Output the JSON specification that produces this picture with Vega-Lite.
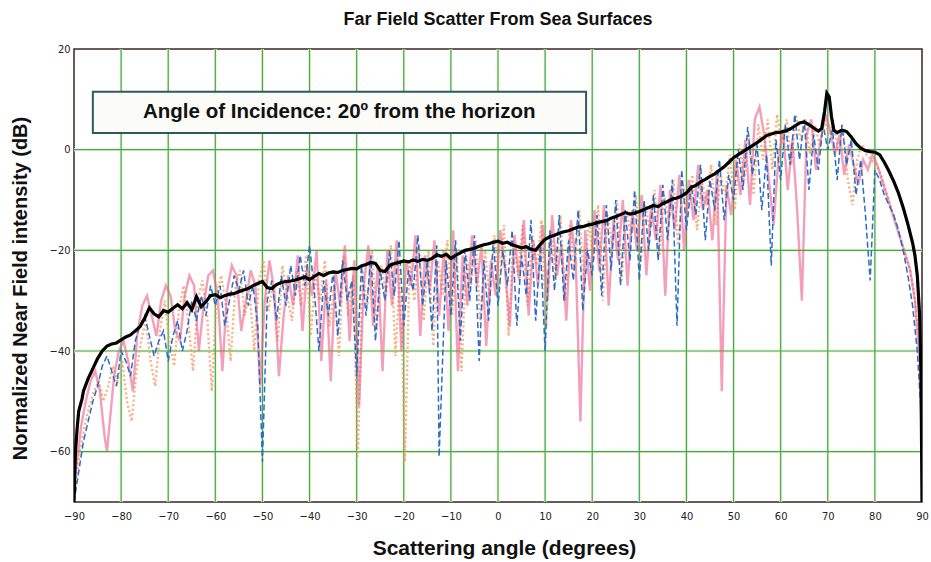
{
  "$schema": "https://vega.github.io/schema/vega-lite/v6.json",
  "width": 848,
  "height": 453,
  "autosize": {"type": "none"},
  "padding": {"left": 74, "top": 49, "right": 9, "bottom": 60},
  "background": "white",
  "title": {
    "text": "Far Field Scatter From Sea Surfaces",
    "font": "Liberation Sans",
    "fontSize": 18,
    "fontWeight": "bold",
    "color": "#111111",
    "anchor": "middle",
    "offset": 14
  },
  "config": {
    "view": {"stroke": "#3a2624", "strokeWidth": 1.5},
    "axis": {
      "grid": false,
      "ticks": false,
      "domain": false,
      "labelFlush": false,
      "labelOverlap": false,
      "labelFont": "Liberation Sans Narrow, DejaVu Sans Condensed, sans-serif",
      "labelFontSize": 11,
      "labelColor": "#222222",
      "titleFont": "Liberation Sans",
      "titleFontWeight": "bold",
      "titleColor": "#111111"
    }
  },
  "datasets": {
    "vgrid": [{"g": -80}, {"g": -70}, {"g": -60}, {"g": -50}, {"g": -40}, {"g": -30}, {"g": -20}, {"g": -10}, {"g": 0}, {"g": 10}, {"g": 20}, {"g": 30}, {"g": 40}, {"g": 50}, {"g": 60}, {"g": 70}, {"g": 80}],
    "hgrid": [{"g": 0}, {"g": -20}, {"g": -40}, {"g": -60}],
    "mean": [
      {"a": -90, "v": -70}, {"a": -89.7, "v": -60}, {"a": -89.3, "v": -55}, {"a": -89, "v": -52}, {"a": -88.3, "v": -49.5}, {"a": -88, "v": -48}, {"a": -87, "v": -45.5}, {"a": -86, "v": -43.5}, {"a": -85, "v": -41.5}, {"a": -84, "v": -40}, {"a": -83, "v": -39}, {"a": -82, "v": -38.6}, {"a": -81, "v": -38.4}, {"a": -80, "v": -37.8}, {"a": -79, "v": -37.2}, {"a": -78, "v": -36.8}, {"a": -77, "v": -36}, {"a": -76, "v": -35.2}, {"a": -75, "v": -33.5}, {"a": -74, "v": -31.4}, {"a": -73, "v": -32.6}, {"a": -72, "v": -33.2}, {"a": -71, "v": -32}, {"a": -70, "v": -32.3}, {"a": -69, "v": -31.5}, {"a": -68, "v": -30.8}, {"a": -67, "v": -31.6}, {"a": -66, "v": -30.4}, {"a": -65, "v": -31.8}, {"a": -64, "v": -29.2}, {"a": -63, "v": -31.2}, {"a": -62, "v": -30.2}, {"a": -61, "v": -29}, {"a": -60, "v": -28.8}, {"a": -59, "v": -29.4}, {"a": -58, "v": -29}, {"a": -57, "v": -28.7}, {"a": -56, "v": -28.6}, {"a": -55, "v": -28.2}, {"a": -54, "v": -27.9}, {"a": -53, "v": -27.6}, {"a": -52, "v": -27}, {"a": -51, "v": -26.6}, {"a": -50, "v": -26.2}, {"a": -49, "v": -27.4}, {"a": -48, "v": -27.6}, {"a": -47, "v": -26.8}, {"a": -46, "v": -26.4}, {"a": -45, "v": -26.2}, {"a": -44, "v": -26.1}, {"a": -43, "v": -25.9}, {"a": -42, "v": -25.6}, {"a": -41, "v": -25.3}, {"a": -40, "v": -25.8}, {"a": -39, "v": -25.2}, {"a": -38, "v": -24.6}, {"a": -37, "v": -25}, {"a": -36, "v": -24.5}, {"a": -35, "v": -24.3}, {"a": -34, "v": -24.4}, {"a": -33, "v": -24}, {"a": -32, "v": -23.8}, {"a": -31, "v": -23.6}, {"a": -30, "v": -23.7}, {"a": -29, "v": -23.1}, {"a": -28, "v": -22.8}, {"a": -27, "v": -22.4}, {"a": -26, "v": -22.6}, {"a": -25, "v": -24}, {"a": -24, "v": -24.2}, {"a": -23, "v": -23}, {"a": -22, "v": -22.6}, {"a": -21, "v": -22.4}, {"a": -20, "v": -22.1}, {"a": -19, "v": -22.3}, {"a": -18, "v": -21.9}, {"a": -17, "v": -22.2}, {"a": -16, "v": -21.8}, {"a": -15, "v": -22}, {"a": -14, "v": -21.6}, {"a": -13, "v": -20.9}, {"a": -12, "v": -21.2}, {"a": -11, "v": -20.8}, {"a": -10, "v": -21.6}, {"a": -9, "v": -21}, {"a": -8, "v": -20.5}, {"a": -7, "v": -20}, {"a": -6, "v": -19.8}, {"a": -5, "v": -19.6}, {"a": -4, "v": -19.2}, {"a": -3, "v": -18.9}, {"a": -2, "v": -18.7}, {"a": -1, "v": -18.4}, {"a": 0, "v": -18.2}, {"a": 1, "v": -18.6}, {"a": 2, "v": -18.4}, {"a": 3, "v": -18.9}, {"a": 4, "v": -19.2}, {"a": 5, "v": -19.5}, {"a": 6, "v": -19.3}, {"a": 7, "v": -19.8}, {"a": 8, "v": -20}, {"a": 9, "v": -18.8}, {"a": 10, "v": -17.8}, {"a": 11, "v": -17.3}, {"a": 12, "v": -17}, {"a": 13, "v": -16.6}, {"a": 14, "v": -16.3}, {"a": 15, "v": -16.1}, {"a": 16, "v": -15.7}, {"a": 17, "v": -15.4}, {"a": 18, "v": -15.3}, {"a": 19, "v": -15}, {"a": 20, "v": -14.8}, {"a": 21, "v": -14.5}, {"a": 22, "v": -14.3}, {"a": 23, "v": -14.1}, {"a": 24, "v": -13.6}, {"a": 25, "v": -13.3}, {"a": 26, "v": -12.9}, {"a": 27, "v": -12.5}, {"a": 28, "v": -12.8}, {"a": 29, "v": -12.6}, {"a": 30, "v": -12.3}, {"a": 31, "v": -11.9}, {"a": 32, "v": -11.5}, {"a": 33, "v": -11.1}, {"a": 34, "v": -11.3}, {"a": 35, "v": -10.7}, {"a": 36, "v": -10.3}, {"a": 37, "v": -9.8}, {"a": 38, "v": -9.6}, {"a": 39, "v": -9.2}, {"a": 40, "v": -8.6}, {"a": 41, "v": -7.5}, {"a": 42, "v": -7.1}, {"a": 43, "v": -6.4}, {"a": 44, "v": -5.9}, {"a": 45, "v": -5.3}, {"a": 46, "v": -4.8}, {"a": 47, "v": -4.1}, {"a": 48, "v": -3.4}, {"a": 49, "v": -2.5}, {"a": 50, "v": -1.6}, {"a": 51, "v": -1}, {"a": 52, "v": -0.4}, {"a": 53, "v": 0.2}, {"a": 54, "v": 0.8}, {"a": 55, "v": 1.4}, {"a": 56, "v": 2.1}, {"a": 57, "v": 2.8}, {"a": 58, "v": 3.1}, {"a": 59, "v": 3.4}, {"a": 60, "v": 3.5}, {"a": 61, "v": 3.7}, {"a": 62, "v": 4.1}, {"a": 63, "v": 4.7}, {"a": 64, "v": 5.3}, {"a": 65, "v": 5.5}, {"a": 66, "v": 5}, {"a": 67, "v": 4.3}, {"a": 68, "v": 3.7}, {"a": 68.7, "v": 4.2}, {"a": 69.3, "v": 7.5}, {"a": 69.8, "v": 11.2}, {"a": 70.3, "v": 10.5}, {"a": 70.8, "v": 6.5}, {"a": 71.3, "v": 3.8}, {"a": 72, "v": 3.4}, {"a": 73, "v": 3.9}, {"a": 74, "v": 3.6}, {"a": 75, "v": 2.5}, {"a": 76, "v": 1.2}, {"a": 77, "v": 0.3}, {"a": 78, "v": -0.2}, {"a": 79, "v": -0.4}, {"a": 80, "v": -0.5}, {"a": 81, "v": -1}, {"a": 82, "v": -2.5}, {"a": 83, "v": -4.3}, {"a": 84, "v": -6.3}, {"a": 85, "v": -8.6}, {"a": 86, "v": -11.5}, {"a": 87, "v": -14.8}, {"a": 88, "v": -18.5}, {"a": 88.5, "v": -21}, {"a": 89, "v": -25}, {"a": 89.5, "v": -33}, {"a": 89.8, "v": -45}, {"a": 90, "v": -70}
    ],
    "blue": [
      {"a": -90, "v": -70}, {"a": -89, "v": -64}, {"a": -88, "v": -58}, {"a": -87, "v": -54}, {"a": -86, "v": -50}, {"a": -85, "v": -47}, {"a": -84, "v": -43}, {"a": -83, "v": -41}, {"a": -82, "v": -44}, {"a": -81, "v": -47}, {"a": -80, "v": -40}, {"a": -79, "v": -42}, {"a": -78, "v": -45}, {"a": -77, "v": -38}, {"a": -76, "v": -35}, {"a": -75, "v": -33}, {"a": -74, "v": -37}, {"a": -73, "v": -41}, {"a": -72, "v": -38}, {"a": -71, "v": -36}, {"a": -70, "v": -42}, {"a": -69, "v": -37}, {"a": -68, "v": -34}, {"a": -67, "v": -40}, {"a": -66, "v": -36}, {"a": -65, "v": -30}, {"a": -64, "v": -34}, {"a": -63, "v": -29}, {"a": -62, "v": -33}, {"a": -61, "v": -27}, {"a": -60, "v": -31}, {"a": -59, "v": -27}, {"a": -58, "v": -35}, {"a": -57, "v": -30}, {"a": -56, "v": -25}, {"a": -55, "v": -28}, {"a": -54, "v": -24}, {"a": -53, "v": -31}, {"a": -52, "v": -27}, {"a": -51, "v": -35}, {"a": -50, "v": -62}, {"a": -49, "v": -30}, {"a": -48, "v": -26}, {"a": -47, "v": -34}, {"a": -46, "v": -25}, {"a": -45, "v": -31}, {"a": -44, "v": -23}, {"a": -43, "v": -29}, {"a": -42, "v": -21}, {"a": -41, "v": -27}, {"a": -40, "v": -19}, {"a": -39, "v": -28}, {"a": -38, "v": -40}, {"a": -37, "v": -26}, {"a": -36, "v": -33}, {"a": -35, "v": -24}, {"a": -34, "v": -37}, {"a": -33, "v": -22}, {"a": -32, "v": -30}, {"a": -31, "v": -26}, {"a": -30, "v": -45}, {"a": -29, "v": -23}, {"a": -28, "v": -33}, {"a": -27, "v": -21}, {"a": -26, "v": -38}, {"a": -25, "v": -24}, {"a": -24, "v": -30}, {"a": -23, "v": -20}, {"a": -22, "v": -29}, {"a": -21, "v": -18}, {"a": -20, "v": -35}, {"a": -19, "v": -24}, {"a": -18, "v": -28}, {"a": -17, "v": -17}, {"a": -16, "v": -31}, {"a": -15, "v": -22}, {"a": -14, "v": -36}, {"a": -13, "v": -19}, {"a": -12.5, "v": -61}, {"a": -11, "v": -22}, {"a": -10, "v": -33}, {"a": -9, "v": -18}, {"a": -8, "v": -38}, {"a": -7, "v": -20}, {"a": -6, "v": -30}, {"a": -5, "v": -17}, {"a": -4, "v": -42}, {"a": -3, "v": -22}, {"a": -2, "v": -34}, {"a": -1, "v": -18}, {"a": 0, "v": -31}, {"a": 1, "v": -20}, {"a": 2, "v": -27}, {"a": 3, "v": -16}, {"a": 4, "v": -35}, {"a": 5, "v": -21}, {"a": 6, "v": -29}, {"a": 7, "v": -14}, {"a": 8, "v": -34}, {"a": 9, "v": -19}, {"a": 10, "v": -40}, {"a": 11, "v": -16}, {"a": 12, "v": -28}, {"a": 13, "v": -13}, {"a": 14, "v": -30}, {"a": 15, "v": -18}, {"a": 16, "v": -26}, {"a": 17, "v": -12}, {"a": 18, "v": -32}, {"a": 19, "v": -20}, {"a": 20, "v": -25}, {"a": 21, "v": -13}, {"a": 22, "v": -29}, {"a": 23, "v": -11}, {"a": 24, "v": -24}, {"a": 25, "v": -10}, {"a": 26, "v": -27}, {"a": 27, "v": -12}, {"a": 28, "v": -22}, {"a": 29, "v": -8}, {"a": 30, "v": -26}, {"a": 31, "v": -10}, {"a": 32, "v": -20}, {"a": 33, "v": -9}, {"a": 34, "v": -22}, {"a": 35, "v": -7}, {"a": 36, "v": -18}, {"a": 37, "v": -6}, {"a": 38, "v": -35}, {"a": 39, "v": -4}, {"a": 40, "v": -16}, {"a": 41, "v": -7}, {"a": 42, "v": -13}, {"a": 43, "v": -3}, {"a": 44, "v": -18}, {"a": 45, "v": -6}, {"a": 46, "v": -12}, {"a": 47, "v": -2}, {"a": 48, "v": -14}, {"a": 49, "v": -5}, {"a": 50, "v": -10}, {"a": 51, "v": 0}, {"a": 52, "v": -8}, {"a": 53, "v": 4.5}, {"a": 54, "v": -5}, {"a": 55, "v": 1}, {"a": 56, "v": -12}, {"a": 57, "v": -1}, {"a": 58, "v": -23}, {"a": 59, "v": 2}, {"a": 60, "v": -6}, {"a": 61, "v": 5}, {"a": 62, "v": -3}, {"a": 63, "v": 7}, {"a": 64, "v": -2}, {"a": 65, "v": 6}, {"a": 66, "v": -8}, {"a": 67, "v": 3}, {"a": 68, "v": -4}, {"a": 69, "v": 5}, {"a": 70, "v": 0}, {"a": 71, "v": 4}, {"a": 72, "v": -6}, {"a": 73, "v": 5}, {"a": 74, "v": -3}, {"a": 75, "v": 2}, {"a": 76, "v": -9}, {"a": 77, "v": -2}, {"a": 78, "v": -13}, {"a": 79, "v": -26}, {"a": 80, "v": -4}, {"a": 81, "v": -6}, {"a": 82, "v": -9}, {"a": 83, "v": -11}, {"a": 84, "v": -13}, {"a": 85, "v": -16}, {"a": 86, "v": -20}, {"a": 87, "v": -25}, {"a": 88, "v": -31}, {"a": 89, "v": -40}, {"a": 90, "v": -55}
    ],
    "pink": [
      {"a": -90, "v": -66}, {"a": -89.5, "v": -63}, {"a": -88.5, "v": -55}, {"a": -87.5, "v": -50}, {"a": -86.5, "v": -46}, {"a": -85.5, "v": -44}, {"a": -84.5, "v": -48}, {"a": -83.5, "v": -57}, {"a": -83, "v": -60}, {"a": -82.5, "v": -55}, {"a": -81.5, "v": -45}, {"a": -80.5, "v": -40}, {"a": -79.5, "v": -38}, {"a": -78.5, "v": -42}, {"a": -77.5, "v": -48}, {"a": -76.5, "v": -36}, {"a": -75.5, "v": -31}, {"a": -74.5, "v": -29}, {"a": -73.5, "v": -33}, {"a": -72.5, "v": -37}, {"a": -71.5, "v": -30}, {"a": -70.5, "v": -27}, {"a": -69.5, "v": -29}, {"a": -68.5, "v": -36}, {"a": -67.5, "v": -38}, {"a": -66.5, "v": -29}, {"a": -65.5, "v": -25}, {"a": -64.5, "v": -27}, {"a": -63.5, "v": -40}, {"a": -62.5, "v": -31}, {"a": -61.5, "v": -25}, {"a": -60.5, "v": -24}, {"a": -59.5, "v": -29}, {"a": -58.5, "v": -44}, {"a": -57.5, "v": -28}, {"a": -56.5, "v": -23}, {"a": -55.5, "v": -25}, {"a": -54.5, "v": -36}, {"a": -53.5, "v": -30}, {"a": -52.5, "v": -24}, {"a": -51.5, "v": -27}, {"a": -50.5, "v": -47}, {"a": -49.5, "v": -30}, {"a": -48.5, "v": -22}, {"a": -47.5, "v": -28}, {"a": -46.5, "v": -45}, {"a": -45.5, "v": -33}, {"a": -44.5, "v": -25}, {"a": -43.5, "v": -31}, {"a": -42.5, "v": -21}, {"a": -41.5, "v": -36}, {"a": -40.5, "v": -23}, {"a": -39.5, "v": -29}, {"a": -38.5, "v": -20}, {"a": -37.5, "v": -42}, {"a": -36.5, "v": -26}, {"a": -35.5, "v": -46}, {"a": -34.5, "v": -24}, {"a": -33.5, "v": -31}, {"a": -32.5, "v": -19}, {"a": -31.5, "v": -38}, {"a": -30.5, "v": -22}, {"a": -29.5, "v": -51}, {"a": -28.5, "v": -27}, {"a": -27.5, "v": -19}, {"a": -26.5, "v": -35}, {"a": -25.5, "v": -23}, {"a": -24.5, "v": -44}, {"a": -23.5, "v": -20}, {"a": -22.5, "v": -31}, {"a": -21.5, "v": -18}, {"a": -20.5, "v": -40}, {"a": -19.5, "v": -22}, {"a": -18.5, "v": -27}, {"a": -17.5, "v": -17}, {"a": -16.5, "v": -37}, {"a": -15.5, "v": -21}, {"a": -14.5, "v": -28}, {"a": -13.5, "v": -18}, {"a": -12.5, "v": -33}, {"a": -11.5, "v": -20}, {"a": -10.5, "v": -36}, {"a": -9.5, "v": -16}, {"a": -8.5, "v": -44}, {"a": -7.5, "v": -21}, {"a": -6.5, "v": -31}, {"a": -5.5, "v": -17}, {"a": -4.5, "v": -27}, {"a": -3.5, "v": -19}, {"a": -2.5, "v": -39}, {"a": -1.5, "v": -22}, {"a": -0.5, "v": -29}, {"a": 0.5, "v": -16}, {"a": 1.5, "v": -24}, {"a": 2.5, "v": -35}, {"a": 3.5, "v": -17}, {"a": 4.5, "v": -26}, {"a": 5.5, "v": -14}, {"a": 6.5, "v": -33}, {"a": 7.5, "v": -18}, {"a": 8.5, "v": -27}, {"a": 9.5, "v": -15}, {"a": 10.5, "v": -30}, {"a": 11.5, "v": -13}, {"a": 12.5, "v": -25}, {"a": 13.5, "v": -19}, {"a": 14.5, "v": -34}, {"a": 15.5, "v": -14}, {"a": 16.5, "v": -22}, {"a": 17.5, "v": -54}, {"a": 18.5, "v": -16}, {"a": 19.5, "v": -28}, {"a": 20.5, "v": -12}, {"a": 21.5, "v": -24}, {"a": 22.5, "v": -11}, {"a": 23.5, "v": -31}, {"a": 24.5, "v": -14}, {"a": 25.5, "v": -22}, {"a": 26.5, "v": -10}, {"a": 27.5, "v": -27}, {"a": 28.5, "v": -12}, {"a": 29.5, "v": -20}, {"a": 30.5, "v": -9}, {"a": 31.5, "v": -25}, {"a": 32.5, "v": -11}, {"a": 33.5, "v": -18}, {"a": 34.5, "v": -7}, {"a": 35.5, "v": -29}, {"a": 36.5, "v": -8}, {"a": 37.5, "v": -16}, {"a": 38.5, "v": -5}, {"a": 39.5, "v": -20}, {"a": 40.5, "v": -6}, {"a": 41.5, "v": -14}, {"a": 42.5, "v": -3}, {"a": 43.5, "v": -12}, {"a": 44.5, "v": -8}, {"a": 45.5, "v": -18}, {"a": 46.5, "v": -4}, {"a": 47.5, "v": -48}, {"a": 48.5, "v": -7}, {"a": 49.5, "v": -13}, {"a": 50.5, "v": -2}, {"a": 51.5, "v": -9}, {"a": 52.5, "v": 2}, {"a": 53.5, "v": -11}, {"a": 54.5, "v": 6}, {"a": 55.5, "v": 8.5}, {"a": 56.5, "v": 3}, {"a": 57.5, "v": -6}, {"a": 58.5, "v": -15}, {"a": 59.5, "v": -2}, {"a": 60.5, "v": 4}, {"a": 61.5, "v": -8}, {"a": 62.5, "v": 2}, {"a": 63.5, "v": -12}, {"a": 64.5, "v": -30}, {"a": 65.5, "v": 3}, {"a": 66.5, "v": 6}, {"a": 67.5, "v": -4}, {"a": 68.5, "v": 2}, {"a": 69.5, "v": 7}, {"a": 70.5, "v": 4}, {"a": 71.5, "v": -1}, {"a": 72.5, "v": 3}, {"a": 73.5, "v": -5}, {"a": 74.5, "v": 1}, {"a": 75.5, "v": -3}, {"a": 76.5, "v": -7}, {"a": 77.5, "v": -2}, {"a": 78.5, "v": -4}, {"a": 79.5, "v": -1}, {"a": 80.5, "v": -3}, {"a": 81.5, "v": -6}, {"a": 82.5, "v": -9}, {"a": 83.5, "v": -12}, {"a": 84.5, "v": -15}, {"a": 85.5, "v": -18}, {"a": 86.5, "v": -21}, {"a": 87.5, "v": -24}, {"a": 88.5, "v": -30}, {"a": 89.5, "v": -42}, {"a": 90, "v": -60}
    ],
    "orange": [
      {"a": -89.75, "v": -67}, {"a": -88.75, "v": -60}, {"a": -87.75, "v": -55}, {"a": -86.75, "v": -51}, {"a": -85.75, "v": -48}, {"a": -84.75, "v": -46}, {"a": -83.75, "v": -50}, {"a": -82.75, "v": -47}, {"a": -81.75, "v": -43}, {"a": -80.75, "v": -46}, {"a": -79.75, "v": -42}, {"a": -78.75, "v": -50}, {"a": -77.75, "v": -54}, {"a": -76.75, "v": -44}, {"a": -75.75, "v": -38}, {"a": -74.75, "v": -34}, {"a": -73.75, "v": -42}, {"a": -72.75, "v": -47}, {"a": -71.75, "v": -36}, {"a": -70.75, "v": -30}, {"a": -69.75, "v": -38}, {"a": -68.75, "v": -43}, {"a": -67.75, "v": -32}, {"a": -66.75, "v": -27}, {"a": -65.75, "v": -34}, {"a": -64.75, "v": -44}, {"a": -63.75, "v": -30}, {"a": -62.75, "v": -26}, {"a": -61.75, "v": -33}, {"a": -60.75, "v": -48}, {"a": -59.75, "v": -29}, {"a": -58.75, "v": -25}, {"a": -57.75, "v": -31}, {"a": -56.75, "v": -42}, {"a": -55.75, "v": -27}, {"a": -54.75, "v": -24}, {"a": -53.75, "v": -33}, {"a": -52.75, "v": -28}, {"a": -51.75, "v": -40}, {"a": -50.75, "v": -26}, {"a": -49.75, "v": -22}, {"a": -48.75, "v": -32}, {"a": -47.75, "v": -27}, {"a": -46.75, "v": -38}, {"a": -45.75, "v": -23}, {"a": -44.75, "v": -29}, {"a": -43.75, "v": -34}, {"a": -42.75, "v": -24}, {"a": -41.75, "v": -31}, {"a": -40.75, "v": -21}, {"a": -39.75, "v": -37}, {"a": -38.75, "v": -25}, {"a": -37.75, "v": -30}, {"a": -36.75, "v": -22}, {"a": -35.75, "v": -35}, {"a": -34.75, "v": -27}, {"a": -33.75, "v": -41}, {"a": -32.75, "v": -21}, {"a": -31.75, "v": -33}, {"a": -30.75, "v": -25}, {"a": -29.75, "v": -61}, {"a": -28.75, "v": -24}, {"a": -27.75, "v": -31}, {"a": -26.75, "v": -20}, {"a": -25.75, "v": -36}, {"a": -24.75, "v": -23}, {"a": -23.75, "v": -29}, {"a": -22.75, "v": -19}, {"a": -21.75, "v": -41}, {"a": -20.75, "v": -23}, {"a": -19.75, "v": -62}, {"a": -18.75, "v": -22}, {"a": -17.75, "v": -30}, {"a": -16.75, "v": -19}, {"a": -15.75, "v": -34}, {"a": -14.75, "v": -20}, {"a": -13.75, "v": -39}, {"a": -12.75, "v": -22}, {"a": -11.75, "v": -29}, {"a": -10.75, "v": -18}, {"a": -9.75, "v": -33}, {"a": -8.75, "v": -20}, {"a": -7.75, "v": -44}, {"a": -6.75, "v": -21}, {"a": -5.75, "v": -27}, {"a": -4.75, "v": -18}, {"a": -3.75, "v": -34}, {"a": -2.75, "v": -20}, {"a": -1.75, "v": -30}, {"a": -0.75, "v": -17}, {"a": 0.25, "v": -28}, {"a": 1.25, "v": -15}, {"a": 2.25, "v": -37}, {"a": 3.25, "v": -18}, {"a": 4.25, "v": -25}, {"a": 5.25, "v": -15}, {"a": 6.25, "v": -31}, {"a": 7.25, "v": -17}, {"a": 8.25, "v": -23}, {"a": 9.25, "v": -14}, {"a": 10.25, "v": -35}, {"a": 11.25, "v": -16}, {"a": 12.25, "v": -26}, {"a": 13.25, "v": -13}, {"a": 14.25, "v": -30}, {"a": 15.25, "v": -15}, {"a": 16.25, "v": -24}, {"a": 17.25, "v": -12}, {"a": 18.25, "v": -28}, {"a": 19.25, "v": -14}, {"a": 20.25, "v": -22}, {"a": 21.25, "v": -11}, {"a": 22.25, "v": -30}, {"a": 23.25, "v": -13}, {"a": 24.25, "v": -19}, {"a": 25.25, "v": -10}, {"a": 26.25, "v": -26}, {"a": 27.25, "v": -12}, {"a": 28.25, "v": -17}, {"a": 29.25, "v": -9}, {"a": 30.25, "v": -23}, {"a": 31.25, "v": -11}, {"a": 32.25, "v": -16}, {"a": 33.25, "v": -8}, {"a": 34.25, "v": -21}, {"a": 35.25, "v": -9}, {"a": 36.25, "v": -14}, {"a": 37.25, "v": -6}, {"a": 38.25, "v": -19}, {"a": 39.25, "v": -7}, {"a": 40.25, "v": -12}, {"a": 41.25, "v": -5}, {"a": 42.25, "v": -16}, {"a": 43.25, "v": -6}, {"a": 44.25, "v": -11}, {"a": 45.25, "v": -3}, {"a": 46.25, "v": -15}, {"a": 47.25, "v": -5}, {"a": 48.25, "v": -9}, {"a": 49.25, "v": -1}, {"a": 50.25, "v": -12}, {"a": 51.25, "v": 1}, {"a": 52.25, "v": -6}, {"a": 53.25, "v": 3}, {"a": 54.25, "v": -9}, {"a": 55.25, "v": 5}, {"a": 56.25, "v": -2}, {"a": 57.25, "v": 6}, {"a": 58.25, "v": -4}, {"a": 59.25, "v": 7}, {"a": 60.25, "v": 1}, {"a": 61.25, "v": 6}, {"a": 62.25, "v": -3}, {"a": 63.25, "v": 7}, {"a": 64.25, "v": 2}, {"a": 65.25, "v": 6}, {"a": 66.25, "v": -1}, {"a": 67.25, "v": 5}, {"a": 68.25, "v": 1}, {"a": 69.25, "v": 6}, {"a": 70.25, "v": 3}, {"a": 71.25, "v": 5}, {"a": 72.25, "v": 0}, {"a": 73.25, "v": 4}, {"a": 74.25, "v": -6}, {"a": 75.25, "v": -11}, {"a": 76.25, "v": -2}, {"a": 77.25, "v": 1}, {"a": 78.25, "v": -1}, {"a": 79.25, "v": -2}, {"a": 80.25, "v": -3}, {"a": 81.25, "v": -5}, {"a": 82.25, "v": -8}, {"a": 83.25, "v": -11}, {"a": 84.25, "v": -14}, {"a": 85.25, "v": -17}, {"a": 86.25, "v": -20}, {"a": 87.25, "v": -23}, {"a": 88.25, "v": -28}, {"a": 89.25, "v": -36}
    ]
  },
  "layer": [
    {
      "data": {"name": "vgrid"},
      "mark": {"type": "rule", "color": "#f7f4b8", "strokeWidth": 3},
      "encoding": {
        "x": {
          "field": "g",
          "type": "quantitative",
          "scale": {"domain": [-90, 90], "nice": false},
          "axis": {
            "title": "Scattering angle (degrees)",
            "values": [-90, -80, -70, -60, -50, -40, -30, -20, -10, 0, 10, 20, 30, 40, 50, 60, 70, 80, 90],
            "labelPadding": 8,
            "titleFontSize": 21,
            "titleX": 430,
            "titleY": 46,
            "titleBaseline": "middle",
            "titleAlign": "center"
          }
        }
      }
    },
    {
      "data": {"name": "hgrid"},
      "mark": {"type": "rule", "color": "#f7f4b8", "strokeWidth": 3},
      "encoding": {
        "y": {
          "field": "g",
          "type": "quantitative",
          "scale": {"domain": [-70, 20], "nice": false},
          "axis": {
            "title": "Normalized Near Field intensity (dB)",
            "values": [-60, -40, -20, 0, 20],
            "labelPadding": 4,
            "titleFontSize": 20,
            "titleAngle": -90,
            "titleX": -54,
            "titleY": 239,
            "titleBaseline": "middle",
            "titleAlign": "center"
          }
        }
      }
    },
    {
      "data": {"name": "vgrid"},
      "mark": {"type": "rule", "color": "#36a878", "strokeWidth": 1.2},
      "encoding": {"x": {"field": "g", "type": "quantitative"}}
    },
    {
      "data": {"name": "hgrid"},
      "mark": {"type": "rule", "color": "#36a878", "strokeWidth": 1.2},
      "encoding": {"y": {"field": "g", "type": "quantitative"}}
    },
    {
      "data": {"name": "orange"},
      "mark": {"type": "line", "color": "#f5975c", "strokeWidth": 2.4, "strokeDash": [2, 2.5], "opacity": 0.75, "clip": true},
      "encoding": {
        "x": {"field": "a", "type": "quantitative"},
        "y": {"field": "v", "type": "quantitative"}
      }
    },
    {
      "data": {"name": "pink"},
      "mark": {"type": "line", "color": "#eb5a88", "strokeWidth": 2.4, "opacity": 0.58, "clip": true},
      "encoding": {
        "x": {"field": "a", "type": "quantitative"},
        "y": {"field": "v", "type": "quantitative"}
      }
    },
    {
      "data": {"name": "blue"},
      "mark": {"type": "line", "color": "#2b6cc9", "strokeWidth": 1.5, "strokeDash": [6, 3], "clip": true},
      "encoding": {
        "x": {"field": "a", "type": "quantitative"},
        "y": {"field": "v", "type": "quantitative"}
      }
    },
    {
      "data": {"name": "mean"},
      "mark": {"type": "line", "color": "#000000", "strokeWidth": 3.2, "clip": true},
      "encoding": {
        "x": {"field": "a", "type": "quantitative"},
        "y": {"field": "v", "type": "quantitative"}
      }
    },
    {
      "data": {"values": [{}]},
      "mark": {"type": "rect", "fill": "#fbfbf8", "stroke": "#2f5a5c", "strokeWidth": 2},
      "encoding": {
        "x": {"datum": -86},
        "x2": {"datum": 18.7},
        "y": {"datum": 11.5},
        "y2": {"datum": 3.3}
      }
    },
    {
      "data": {"values": [{}]},
      "mark": {"type": "text", "text": "Angle of Incidence: 20º from the horizon", "font": "Liberation Sans", "fontSize": 20.5, "fontWeight": "bold", "color": "#111111", "align": "center", "baseline": "middle"},
      "encoding": {
        "x": {"datum": -33.7},
        "y": {"datum": 7.4}
      }
    }
  ]
}
